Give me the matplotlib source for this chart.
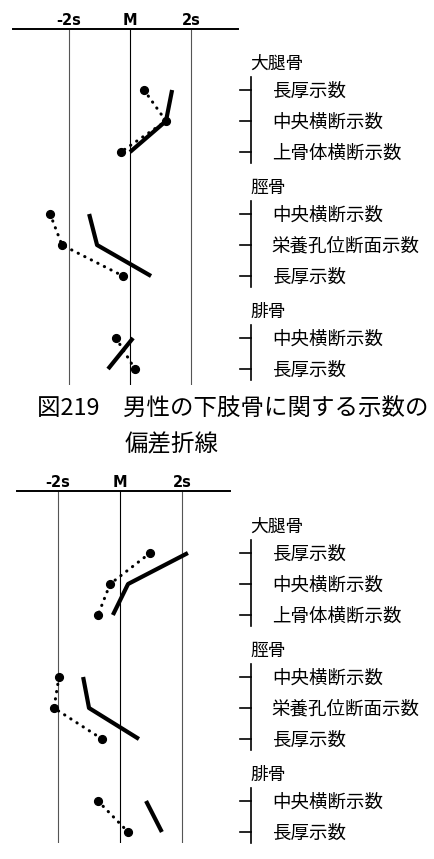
import matplotlib
matplotlib.use("Agg")
import matplotlib.pyplot as plt
from matplotlib import transforms

plt.rcParams['font.family'] = ['Noto Sans CJK JP', 'DejaVu Sans']

# 骨と示数
groups = ['大腿骨', '脛骨', '腓骨']
femur_items = ['長厚示数', '中央横断示数', '上骨体横断示数']
tibia_items = ['中央横断示数', '栄養孔位断面示数', '長厚示数']
fibula_items = ['中央横断示数', '長厚示数']
item_lists = [femur_items, tibia_items, fibula_items]

axis_ticks = [-2, 0, 2]
axis_labels = ['-2s', 'M', '2s']

# 上の図 (図219 男性) -- 偏差, s単位
m_femur_solid = [1.38, 1.18, 0.0]
m_femur_dot = [0.46, 1.18, -0.30]
m_tibia_solid = [-1.34, -1.08, 0.69]
m_tibia_dot = [-2.62, -2.23, -0.23]
m_fibula_solid = [0.10, -0.72]
m_fibula_dot = [-0.46, 0.16]

# 下の図
f_femur_solid = [2.19, 0.26, -0.23]
f_femur_dot = [0.97, -0.32, -0.71]
f_tibia_solid = [-1.19, -1.00, 0.61]
f_tibia_dot = [-1.97, -2.13, -0.58]
f_fibula_solid = [0.84, 1.35]
f_fibula_dot = [-0.71, 0.26]

caption1 = '図219　男性の下肢骨に関する示数の'
caption2 = '偏差折線'

fig = plt.figure(figsize=(4.35, 8.59), dpi=100)


def draw_panel(rect, xlim, ylim, solid, dotted):
    ax = fig.add_axes(rect)
    ax.set_xlim(*xlim)
    ax.set_ylim(*ylim)
    for sp in ['left', 'right', 'bottom']:
        ax.spines[sp].set_visible(False)
    ax.spines['top'].set_linewidth(1.4)
    ax.set_yticks([])
    ax.set_xticks(axis_ticks, axis_labels, fontweight='bold', fontsize=10.5,
                  family='DejaVu Sans')
    ax.tick_params(axis='x', top=True, labeltop=True, bottom=False,
                   labelbottom=False, length=0, pad=0.8)
    for t in axis_ticks:
        ax.axvline(t, color='k' if t == 0 else '#555555', lw=0.8)

    # 右側の括弧と名前 (x は図の割合)
    tr = transforms.blended_transform_factory(fig.transFigure, ax.transData)
    start = 0
    for g, items, sv, dv in zip(groups, item_lists, solid, dotted):
        rows = [start + i for i in range(len(items))]
        ax.plot(sv, rows, color='k', lw=3, solid_capstyle='butt')
        ax.plot(dv, rows, color='k', lw=2.2, linestyle=(0, (0.1, 2.3)),
                dash_capstyle='round', marker='o', ms=5.6)
        ax.text(0.576, start - 0.83, g, transform=tr, fontsize=12.8,
                va='center', ha='left')
        ax.plot([0.577, 0.577], [start - 0.42, rows[-1] + 0.35], transform=tr,
                color='k', lw=1.2, clip_on=False)
        for r, item in zip(rows, items):
            ax.plot([0.552, 0.577], [r, r], transform=tr, color='k', lw=1.2,
                    clip_on=False)
            ax.text(0.625, r + 0.06, item, transform=tr, fontsize=13.3,
                    va='center', ha='left')
        start += len(items) + 1
    return ax


draw_panel([13 / 435, 1 - 385 / 859, 225 / 435, 356 / 859],
           (-3.836, 3.541), (9.516, -1.968),
           [m_femur_solid, m_tibia_solid, m_fibula_solid],
           [m_femur_dot, m_tibia_dot, m_fibula_dot])

draw_panel([17 / 435, 1 - 843 / 859, 213 / 435, 352 / 859],
           (-3.323, 3.548), (9.355, -2.0),
           [f_femur_solid, f_tibia_solid, f_fibula_solid],
           [f_femur_dot, f_tibia_dot, f_fibula_dot])

fig.text(37 / 435, 1 - 408 / 859, caption1, fontsize=16.9, va='center', ha='left')
fig.text(125 / 435, 1 - 445 / 859, caption2, fontsize=16.9, va='center', ha='left')

fig.savefig('out.png', dpi=100)
